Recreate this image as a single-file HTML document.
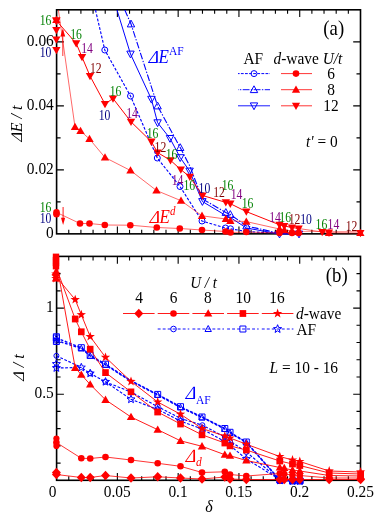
<!DOCTYPE html>
<html><head><meta charset="utf-8"><title>Figure</title>
<style>
html,body{margin:0;padding:0;background:#fff;}
svg{display:block;font-family:"Liberation Serif",serif;will-change:transform;}
</style></head><body>
<svg width="382" height="524" viewBox="0 0 382 524">
<rect width="382" height="524" fill="#fff"/>
<defs>
<clipPath id="ca"><rect x="56.6" y="9.8" width="309.9" height="232.04999999999998"/></clipPath>
<clipPath id="cb"><rect x="50.6" y="252.39999999999998" width="315.9" height="233.90000000000003"/></clipPath>
</defs>
<rect x="56.6" y="9.8" width="303.9" height="224.04999999999998" fill="none" stroke="#000" stroke-width="1.6"/>
<path d="M68.76 9.8v4.0M68.76 233.85v-4.0" stroke="#000" stroke-width="1.1"/>
<path d="M80.91 9.8v4.0M80.91 233.85v-4.0" stroke="#000" stroke-width="1.1"/>
<path d="M93.07 9.8v4.0M93.07 233.85v-4.0" stroke="#000" stroke-width="1.1"/>
<path d="M105.22 9.8v4.0M105.22 233.85v-4.0" stroke="#000" stroke-width="1.1"/>
<path d="M117.38 9.8v7.3M117.38 233.85v-7.3" stroke="#000" stroke-width="1.1"/>
<path d="M129.54 9.8v4.0M129.54 233.85v-4.0" stroke="#000" stroke-width="1.1"/>
<path d="M141.69 9.8v4.0M141.69 233.85v-4.0" stroke="#000" stroke-width="1.1"/>
<path d="M153.85 9.8v4.0M153.85 233.85v-4.0" stroke="#000" stroke-width="1.1"/>
<path d="M166.00 9.8v4.0M166.00 233.85v-4.0" stroke="#000" stroke-width="1.1"/>
<path d="M178.16 9.8v7.3M178.16 233.85v-7.3" stroke="#000" stroke-width="1.1"/>
<path d="M190.32 9.8v4.0M190.32 233.85v-4.0" stroke="#000" stroke-width="1.1"/>
<path d="M202.47 9.8v4.0M202.47 233.85v-4.0" stroke="#000" stroke-width="1.1"/>
<path d="M214.63 9.8v4.0M214.63 233.85v-4.0" stroke="#000" stroke-width="1.1"/>
<path d="M226.78 9.8v4.0M226.78 233.85v-4.0" stroke="#000" stroke-width="1.1"/>
<path d="M238.94 9.8v7.3M238.94 233.85v-7.3" stroke="#000" stroke-width="1.1"/>
<path d="M251.10 9.8v4.0M251.10 233.85v-4.0" stroke="#000" stroke-width="1.1"/>
<path d="M263.25 9.8v4.0M263.25 233.85v-4.0" stroke="#000" stroke-width="1.1"/>
<path d="M275.41 9.8v4.0M275.41 233.85v-4.0" stroke="#000" stroke-width="1.1"/>
<path d="M287.56 9.8v4.0M287.56 233.85v-4.0" stroke="#000" stroke-width="1.1"/>
<path d="M299.72 9.8v7.3M299.72 233.85v-7.3" stroke="#000" stroke-width="1.1"/>
<path d="M311.88 9.8v4.0M311.88 233.85v-4.0" stroke="#000" stroke-width="1.1"/>
<path d="M324.03 9.8v4.0M324.03 233.85v-4.0" stroke="#000" stroke-width="1.1"/>
<path d="M336.19 9.8v4.0M336.19 233.85v-4.0" stroke="#000" stroke-width="1.1"/>
<path d="M348.34 9.8v4.0M348.34 233.85v-4.0" stroke="#000" stroke-width="1.1"/>
<path d="M56.6 201.85h4.0M360.5 201.85h-4.0" stroke="#000" stroke-width="1.1"/>
<path d="M56.6 169.85h7.3M360.5 169.85h-7.3" stroke="#000" stroke-width="1.1"/>
<path d="M56.6 137.85h4.0M360.5 137.85h-4.0" stroke="#000" stroke-width="1.1"/>
<path d="M56.6 105.85h7.3M360.5 105.85h-7.3" stroke="#000" stroke-width="1.1"/>
<path d="M56.6 73.85h4.0M360.5 73.85h-4.0" stroke="#000" stroke-width="1.1"/>
<path d="M56.6 41.85h7.3M360.5 41.85h-7.3" stroke="#000" stroke-width="1.1"/>
<polyline points="95.5,10.0 104.8,50.0 130.5,96.0 157.3,158.0 180.0,186.5 202.0,221.0 225.5,228.0 230.5,228.8 246.5,231.5 279.5,233.3 299.0,233.3" fill="none" stroke="#0000ff" stroke-width="1.15" stroke-opacity="1.0" stroke-dasharray="2.8 1.6" clip-path="url(#ca)"/>
<circle cx="104.8" cy="50.0" r="3.0" fill="none" stroke="#0000ff" stroke-width="1"/>
<circle cx="130.5" cy="96.0" r="3.0" fill="none" stroke="#0000ff" stroke-width="1"/>
<circle cx="157.3" cy="158.0" r="3.0" fill="none" stroke="#0000ff" stroke-width="1"/>
<circle cx="180.0" cy="186.5" r="3.0" fill="none" stroke="#0000ff" stroke-width="1"/>
<circle cx="202.0" cy="221.0" r="3.0" fill="none" stroke="#0000ff" stroke-width="1"/>
<circle cx="225.5" cy="228.0" r="3.0" fill="none" stroke="#0000ff" stroke-width="1"/>
<circle cx="230.5" cy="228.8" r="3.0" fill="none" stroke="#0000ff" stroke-width="1"/>
<circle cx="246.5" cy="231.5" r="3.0" fill="none" stroke="#0000ff" stroke-width="1"/>
<polyline points="124.8,10.0 131.0,24.0 157.6,106.0 180.2,147.6 189.8,166.0 202.4,199.0 225.8,212.5 230.3,214.5 246.5,226.0 279.5,233.3 299.0,233.3" fill="none" stroke="#0000ff" stroke-width="1.1" stroke-opacity="1.0" stroke-dasharray="6.8 1.6 1.4 1.6" clip-path="url(#ca)"/>
<polygon points="131.0,20.1 134.7,26.9 127.3,26.9" fill="none" stroke="#0000ff" stroke-width="1" stroke-linejoin="miter"/>
<polygon points="157.6,102.1 161.3,108.9 153.9,108.9" fill="none" stroke="#0000ff" stroke-width="1" stroke-linejoin="miter"/>
<polygon points="180.2,143.7 183.9,150.5 176.5,150.5" fill="none" stroke="#0000ff" stroke-width="1" stroke-linejoin="miter"/>
<polygon points="225.8,208.6 229.5,215.4 222.1,215.4" fill="none" stroke="#0000ff" stroke-width="1" stroke-linejoin="miter"/>
<polygon points="230.3,210.6 234.0,217.4 226.6,217.4" fill="none" stroke="#0000ff" stroke-width="1" stroke-linejoin="miter"/>
<polygon points="246.5,222.1 250.2,228.9 242.8,228.9" fill="none" stroke="#0000ff" stroke-width="1" stroke-linejoin="miter"/>
<polyline points="117.0,10.0 130.5,54.0 151.4,99.2 157.6,122.7 170.0,138.4 180.2,157.6 189.6,171.0 202.4,201.5 225.8,215.5 230.3,217.5 246.5,228.0 279.5,234.0 299.0,234.0" fill="none" stroke="#0000ff" stroke-width="1.0" stroke-opacity="1.0" clip-path="url(#ca)"/>
<polygon points="130.5,57.9 134.2,51.1 126.8,51.1" fill="none" stroke="#0000ff" stroke-width="1" stroke-linejoin="miter"/>
<polygon points="151.4,103.1 155.1,96.3 147.7,96.3" fill="none" stroke="#0000ff" stroke-width="1" stroke-linejoin="miter"/>
<polygon points="157.6,126.6 161.3,119.8 153.9,119.8" fill="none" stroke="#0000ff" stroke-width="1" stroke-linejoin="miter"/>
<polygon points="170.0,142.3 173.7,135.5 166.3,135.5" fill="none" stroke="#0000ff" stroke-width="1" stroke-linejoin="miter"/>
<polygon points="180.2,161.5 183.9,154.7 176.5,154.7" fill="none" stroke="#0000ff" stroke-width="1" stroke-linejoin="miter"/>
<polygon points="189.6,174.9 193.3,168.1 185.9,168.1" fill="none" stroke="#0000ff" stroke-width="1" stroke-linejoin="miter"/>
<polygon points="202.4,205.4 206.1,198.6 198.7,198.6" fill="none" stroke="#0000ff" stroke-width="1" stroke-linejoin="miter"/>
<polygon points="279.5,237.9 283.2,231.1 275.8,231.1" fill="none" stroke="#0000ff" stroke-width="1" stroke-linejoin="miter"/>
<polygon points="299.0,237.9 302.7,231.1 295.3,231.1" fill="none" stroke="#0000ff" stroke-width="1" stroke-linejoin="miter"/>
<polyline points="56.5,212.4 80.0,223.5 89.5,223.5 104.8,225.0 130.3,225.2 156.8,227.5 179.8,228.5 202.0,230.0 225.5,231.5 230.5,232.5 246.3,232.0 279.5,233.0 292.0,233.0 298.6,233.0" fill="none" stroke="#ff0000" stroke-width="0.7" stroke-opacity="0.85"/>
<circle cx="56.5" cy="212.4" r="3.3" fill="#ff0000"/>
<circle cx="80.0" cy="223.5" r="3.3" fill="#ff0000"/>
<circle cx="89.5" cy="223.5" r="3.3" fill="#ff0000"/>
<circle cx="104.8" cy="225.0" r="3.3" fill="#ff0000"/>
<circle cx="130.3" cy="225.2" r="3.3" fill="#ff0000"/>
<circle cx="156.8" cy="227.5" r="3.3" fill="#ff0000"/>
<circle cx="179.8" cy="228.5" r="3.3" fill="#ff0000"/>
<circle cx="202.0" cy="230.0" r="3.3" fill="#ff0000"/>
<circle cx="225.5" cy="231.5" r="3.3" fill="#ff0000"/>
<circle cx="230.5" cy="232.5" r="3.3" fill="#ff0000"/>
<circle cx="246.3" cy="232.0" r="3.3" fill="#ff0000"/>
<circle cx="279.5" cy="233.0" r="3.3" fill="#ff0000"/>
<circle cx="292.0" cy="233.0" r="3.3" fill="#ff0000"/>
<circle cx="298.6" cy="233.0" r="3.3" fill="#ff0000"/>
<polyline points="58.4,10.0 75.0,127.0 80.5,131.0 89.5,139.0 105.0,157.5 130.5,170.5 156.5,190.5 181.0,200.7 202.0,215.8 225.8,219.0 230.3,220.8 246.3,221.6 279.5,229.0 284.3,230.0 292.0,231.0 298.6,231.5" fill="none" stroke="#ff0000" stroke-width="0.7" stroke-opacity="0.85" clip-path="url(#ca)"/>
<polygon points="75.0,122.8 79.2,130.1 70.8,130.1" fill="#ff0000"/>
<polygon points="80.5,126.8 84.7,134.1 76.3,134.1" fill="#ff0000"/>
<polygon points="89.5,134.8 93.7,142.1 85.3,142.1" fill="#ff0000"/>
<polygon points="105.0,153.3 109.2,160.6 100.8,160.6" fill="#ff0000"/>
<polygon points="130.5,166.3 134.7,173.6 126.3,173.6" fill="#ff0000"/>
<polygon points="156.5,186.3 160.7,193.6 152.3,193.6" fill="#ff0000"/>
<polygon points="181.0,196.5 185.2,203.8 176.8,203.8" fill="#ff0000"/>
<polygon points="202.0,211.6 206.2,218.9 197.8,218.9" fill="#ff0000"/>
<polygon points="225.8,214.8 230.0,222.1 221.7,222.1" fill="#ff0000"/>
<polygon points="230.3,216.6 234.5,223.9 226.2,223.9" fill="#ff0000"/>
<polygon points="246.3,217.4 250.5,224.7 242.2,224.7" fill="#ff0000"/>
<polygon points="279.5,224.8 283.6,232.1 275.4,232.1" fill="#ff0000"/>
<polygon points="284.3,225.8 288.4,233.1 280.2,233.1" fill="#ff0000"/>
<polygon points="292.0,226.8 296.1,234.1 287.9,234.1" fill="#ff0000"/>
<polygon points="298.6,227.3 302.8,234.6 294.5,234.6" fill="#ff0000"/>
<polyline points="298.6,231.5 329.0,231.5 360.4,231.5" fill="none" stroke="#ff0000" stroke-width="0.5" stroke-opacity="0.8" clip-path="url(#ca)"/>
<polygon points="329.0,228.7 333.1,236.0 324.9,236.0" fill="#ff0000"/>
<polygon points="360.4,228.7 364.5,236.0 356.2,236.0" fill="#ff0000"/>
<polyline points="56.4,20.7 76.2,43.4 82.0,57.0 90.0,76.0 105.0,104.0 113.0,98.5 131.0,121.8 151.4,141.7 157.6,152.6 170.5,160.3 180.8,169.6 189.8,176.8 202.5,195.5 225.8,202.4 230.3,203.7 246.3,211.6 279.5,224.8 284.3,226.0 292.0,227.5 298.6,228.5" fill="none" stroke="#ff0000" stroke-width="1.0" stroke-opacity="1.0" clip-path="url(#ca)"/>
<polygon points="56.4,24.9 60.5,17.6 52.2,17.6" fill="#ff0000"/>
<polygon points="76.2,47.6 80.4,40.3 72.0,40.3" fill="#ff0000"/>
<polygon points="82.0,61.2 86.2,53.9 77.8,53.9" fill="#ff0000"/>
<polygon points="90.0,80.2 94.2,72.9 85.8,72.9" fill="#ff0000"/>
<polygon points="105.0,108.2 109.2,100.9 100.8,100.9" fill="#ff0000"/>
<polygon points="113.0,102.7 117.2,95.4 108.8,95.4" fill="#ff0000"/>
<polygon points="131.0,126.0 135.2,118.7 126.8,118.7" fill="#ff0000"/>
<polygon points="151.4,145.9 155.6,138.6 147.2,138.6" fill="#ff0000"/>
<polygon points="157.6,156.8 161.8,149.5 153.4,149.5" fill="#ff0000"/>
<polygon points="170.5,164.5 174.7,157.2 166.3,157.2" fill="#ff0000"/>
<polygon points="180.8,173.8 185.0,166.5 176.7,166.5" fill="#ff0000"/>
<polygon points="189.8,181.0 194.0,173.7 185.7,173.7" fill="#ff0000"/>
<polygon points="202.5,199.7 206.7,192.4 198.3,192.4" fill="#ff0000"/>
<polygon points="225.8,206.6 230.0,199.3 221.7,199.3" fill="#ff0000"/>
<polygon points="230.3,207.9 234.5,200.6 226.2,200.6" fill="#ff0000"/>
<polygon points="246.3,215.8 250.5,208.5 242.2,208.5" fill="#ff0000"/>
<polygon points="279.5,229.0 283.6,221.7 275.4,221.7" fill="#ff0000"/>
<polygon points="284.3,230.2 288.4,222.9 280.2,222.9" fill="#ff0000"/>
<polygon points="292.0,231.7 296.1,224.4 287.9,224.4" fill="#ff0000"/>
<polygon points="298.6,232.7 302.8,225.4 294.5,225.4" fill="#ff0000"/>
<polyline points="298.6,228.5 322.2,232.0 329.0,232.7 360.4,233.0" fill="none" stroke="#ff0000" stroke-width="0.6" stroke-opacity="1.0" clip-path="url(#ca)"/>
<polygon points="322.2,236.2 326.3,228.9 318.1,228.9" fill="#ff0000"/>
<polygon points="329.0,236.9 333.1,229.6 324.9,229.6" fill="#ff0000"/>
<polygon points="360.4,237.2 364.5,229.9 356.2,229.9" fill="#ff0000"/>
<polygon points="56.4,24.9 60.5,17.6 52.2,17.6" fill="#ff0000"/>
<polygon points="56.4,34.2 60.5,26.9 52.2,26.9" fill="#ff0000"/>
<polygon points="56.4,43.7 60.5,36.4 52.2,36.4" fill="#ff0000"/>
<polygon points="56.4,54.2 60.5,46.9 52.2,46.9" fill="#ff0000"/>
<polygon points="56.4,15.8 60.5,23.1 52.2,23.1" fill="#ff0000"/>
<path d="M62.8 56V30" stroke="#ff0000" stroke-width="0.8" fill="none"/>
<polygon points="62.8,28.5 65.2,36.5 60.4,36.5" fill="#ff0000"/>
<path d="M63.1 207V222" stroke="#ff0000" stroke-width="0.9" fill="none"/>
<polygon points="63.1,225.0 65.2,217.8 61.0,217.8" fill="#ff0000"/>
<circle cx="56.5" cy="214.2" r="3.3" fill="#ff0000"/>
<text transform="translate(53.8,45.9) scale(1.0,1.06)" font-size="15.4" fill="#000" text-anchor="end">0.06</text>
<text transform="translate(53.8,109.9) scale(1.0,1.06)" font-size="15.4" fill="#000" text-anchor="end">0.04</text>
<text transform="translate(53.8,173.9) scale(1.0,1.06)" font-size="15.4" fill="#000" text-anchor="end">0.02</text>
<text transform="translate(53.8,237.9) scale(1.0,1.06)" font-size="15.4" fill="#000" text-anchor="end">0</text>
<text transform="translate(45.5,25.3) scale(0.8,1.0)" font-size="14.6" fill="#008000" text-anchor="middle">16</text>
<text transform="translate(45.5,57.3) scale(0.8,1.0)" font-size="14.6" fill="#000080" text-anchor="middle">10</text>
<text transform="translate(76.0,39.3) scale(0.8,1.0)" font-size="14.6" fill="#008000" text-anchor="middle">16</text>
<text transform="translate(87.0,53.3) scale(0.8,1.0)" font-size="14.6" fill="#800080" text-anchor="middle">14</text>
<text transform="translate(95.8,72.8) scale(0.8,1.0)" font-size="14.6" fill="#800000" text-anchor="middle">12</text>
<text transform="translate(104.5,119.8) scale(0.8,1.0)" font-size="14.6" fill="#000080" text-anchor="middle">10</text>
<text transform="translate(115.5,95.8) scale(0.8,1.0)" font-size="14.6" fill="#008000" text-anchor="middle">16</text>
<text transform="translate(132.0,117.8) scale(0.8,1.0)" font-size="14.6" fill="#800080" text-anchor="middle">14</text>
<text transform="translate(152.5,138.3) scale(0.8,1.0)" font-size="14.6" fill="#008000" text-anchor="middle">16</text>
<text transform="translate(160.4,152.1) scale(0.8,1.0)" font-size="14.6" fill="#800000" text-anchor="middle">12</text>
<text transform="translate(171.5,159.1) scale(0.8,1.0)" font-size="14.6" fill="#008000" text-anchor="middle">16</text>
<text transform="translate(177.6,185.1) scale(0.8,1.0)" font-size="14.6" fill="#800080" text-anchor="middle">14</text>
<text transform="translate(189.3,190.1) scale(0.8,1.0)" font-size="14.6" fill="#008000" text-anchor="middle">16</text>
<text transform="translate(204.4,192.7) scale(0.8,1.0)" font-size="14.6" fill="#000080" text-anchor="middle">10</text>
<text transform="translate(219.0,196.8) scale(0.8,1.0)" font-size="14.6" fill="#800000" text-anchor="middle">12</text>
<text transform="translate(227.5,189.8) scale(0.8,1.0)" font-size="14.6" fill="#008000" text-anchor="middle">16</text>
<text transform="translate(236.5,199.3) scale(0.8,1.0)" font-size="14.6" fill="#800080" text-anchor="middle">14</text>
<text transform="translate(247.5,208.3) scale(0.8,1.0)" font-size="14.6" fill="#008000" text-anchor="middle">16</text>
<text transform="translate(275.0,221.9) scale(0.8,1.0)" font-size="14.6" fill="#800080" text-anchor="middle">14</text>
<text transform="translate(285.2,221.9) scale(0.8,1.0)" font-size="14.6" fill="#008000" text-anchor="middle">16</text>
<text transform="translate(294.6,223.7) scale(0.8,1.0)" font-size="14.6" fill="#800000" text-anchor="middle">12</text>
<text transform="translate(306.0,223.7) scale(0.8,1.0)" font-size="14.6" fill="#000080" text-anchor="middle">10</text>
<text transform="translate(321.4,228.9) scale(0.8,1.0)" font-size="14.6" fill="#008000" text-anchor="middle">16</text>
<text transform="translate(333.4,228.9) scale(0.8,1.0)" font-size="14.6" fill="#800080" text-anchor="middle">14</text>
<text transform="translate(351.5,231.3) scale(0.8,1.0)" font-size="14.6" fill="#800000" text-anchor="middle">12</text>
<text transform="translate(45.5,211.7) scale(0.8,1.0)" font-size="14.6" fill="#008000" text-anchor="middle">16</text>
<text transform="translate(45.5,222.8) scale(0.8,1.0)" font-size="14.6" fill="#000080" text-anchor="middle">10</text>
<text transform="translate(323.3,34.8) scale(1.0,1.06)" font-size="18.8" fill="#000" text-anchor="start">(a)</text>
<text transform="translate(243.5,63.7) scale(1.0,1.06)" font-size="15.4" fill="#000" text-anchor="start">AF</text>
<text transform="translate(273.5,63.7) scale(1.0,1.06)" font-size="15.4" fill="#000"><tspan font-style="italic">d</tspan>-wave <tspan font-style="italic">U/t</tspan></text>
<text transform="translate(331.0,78.7) scale(1.0,1.06)" font-size="15.4" fill="#000" text-anchor="middle">6</text>
<text transform="translate(331.0,94.8) scale(1.0,1.06)" font-size="15.4" fill="#000" text-anchor="middle">8</text>
<text transform="translate(331.0,110.9) scale(1.0,1.06)" font-size="15.4" fill="#000" text-anchor="middle">12</text>
<path d="M238 73.6H270" stroke="#0000ff" stroke-width="1" stroke-dasharray="2.8 1.3" stroke-dashoffset="1.2" fill="none"/>
<circle cx="254.0" cy="73.6" r="3.0" fill="none" stroke="#0000ff" stroke-width="1"/>
<path d="M238 89.7H270" stroke="#0000ff" stroke-width="0.95" stroke-dasharray="6.8 1.4 1.4 1.4" stroke-dashoffset="6.3" fill="none"/>
<polygon points="254.0,85.8 257.7,92.6 250.3,92.6" fill="none" stroke="#0000ff" stroke-width="1" stroke-linejoin="miter"/>
<path d="M238 105.8H270" stroke="#0000ff" stroke-width="0.9" fill="none"/>
<polygon points="254.0,109.7 257.7,102.9 250.3,102.9" fill="none" stroke="#0000ff" stroke-width="1" stroke-linejoin="miter"/>
<path d="M281 73.6H312" stroke="#ff0000" stroke-width="0.8" fill="none"/>
<circle cx="296.0" cy="73.6" r="3.3" fill="#ff0000"/>
<path d="M281 89.7H312" stroke="#ff0000" stroke-width="0.8" fill="none"/>
<polygon points="296.0,85.5 300.1,92.8 291.9,92.8" fill="#ff0000"/>
<path d="M281 105.8H312" stroke="#ff0000" stroke-width="0.8" fill="none"/>
<polygon points="296.0,110.0 300.1,102.7 291.9,102.7" fill="#ff0000"/>
<text transform="translate(306.0,146.8) scale(1.0,1.06)" font-size="15.4" fill="#000"><tspan font-style="italic">t'</tspan> = 0</text>
<text transform="translate(148.5,62.5) scale(1,1.06) skewX(-9)" font-size="17" fill="#0000ff" font-style="italic">Δ</text>
<text transform="translate(158.5,62.5) scale(1,1.06)" font-size="17" fill="#0000ff" font-style="italic">E<tspan font-size="11.5" font-style="normal" dy="-7.5">AF</tspan></text>
<text transform="translate(149.5,223.0) scale(1,1.06) skewX(-9)" font-size="17" fill="#ff0000" font-style="italic">Δ</text>
<text transform="translate(159.5,223.0) scale(1,1.06)" font-size="17" fill="#ff0000" font-style="italic">E<tspan font-size="11" dy="-7.6">d</tspan></text>
<g transform="translate(22.2,123.5) rotate(-90)" font-size="16" font-style="italic"><text transform="translate(-18.2,0) skewX(-9)">Δ</text><text x="-8.8" y="0">E / t</text></g>
<rect x="56.6" y="256.4" width="303.9" height="223.90000000000003" fill="none" stroke="#000" stroke-width="1.6"/>
<path d="M68.76 256.4v4.0M68.76 480.3v-4.0" stroke="#000" stroke-width="1.1"/>
<path d="M80.91 256.4v4.0M80.91 480.3v-4.0" stroke="#000" stroke-width="1.1"/>
<path d="M93.07 256.4v4.0M93.07 480.3v-4.0" stroke="#000" stroke-width="1.1"/>
<path d="M105.22 256.4v4.0M105.22 480.3v-4.0" stroke="#000" stroke-width="1.1"/>
<path d="M117.38 256.4v7.3M117.38 480.3v-7.3" stroke="#000" stroke-width="1.1"/>
<path d="M129.54 256.4v4.0M129.54 480.3v-4.0" stroke="#000" stroke-width="1.1"/>
<path d="M141.69 256.4v4.0M141.69 480.3v-4.0" stroke="#000" stroke-width="1.1"/>
<path d="M153.85 256.4v4.0M153.85 480.3v-4.0" stroke="#000" stroke-width="1.1"/>
<path d="M166.00 256.4v4.0M166.00 480.3v-4.0" stroke="#000" stroke-width="1.1"/>
<path d="M178.16 256.4v7.3M178.16 480.3v-7.3" stroke="#000" stroke-width="1.1"/>
<path d="M190.32 256.4v4.0M190.32 480.3v-4.0" stroke="#000" stroke-width="1.1"/>
<path d="M202.47 256.4v4.0M202.47 480.3v-4.0" stroke="#000" stroke-width="1.1"/>
<path d="M214.63 256.4v4.0M214.63 480.3v-4.0" stroke="#000" stroke-width="1.1"/>
<path d="M226.78 256.4v4.0M226.78 480.3v-4.0" stroke="#000" stroke-width="1.1"/>
<path d="M238.94 256.4v7.3M238.94 480.3v-7.3" stroke="#000" stroke-width="1.1"/>
<path d="M251.10 256.4v4.0M251.10 480.3v-4.0" stroke="#000" stroke-width="1.1"/>
<path d="M263.25 256.4v4.0M263.25 480.3v-4.0" stroke="#000" stroke-width="1.1"/>
<path d="M275.41 256.4v4.0M275.41 480.3v-4.0" stroke="#000" stroke-width="1.1"/>
<path d="M287.56 256.4v4.0M287.56 480.3v-4.0" stroke="#000" stroke-width="1.1"/>
<path d="M299.72 256.4v7.3M299.72 480.3v-7.3" stroke="#000" stroke-width="1.1"/>
<path d="M311.88 256.4v4.0M311.88 480.3v-4.0" stroke="#000" stroke-width="1.1"/>
<path d="M324.03 256.4v4.0M324.03 480.3v-4.0" stroke="#000" stroke-width="1.1"/>
<path d="M336.19 256.4v4.0M336.19 480.3v-4.0" stroke="#000" stroke-width="1.1"/>
<path d="M348.34 256.4v4.0M348.34 480.3v-4.0" stroke="#000" stroke-width="1.1"/>
<path d="M56.6 463.08h4.0M360.5 463.08h-4.0" stroke="#000" stroke-width="1.1"/>
<path d="M56.6 445.86h4.0M360.5 445.86h-4.0" stroke="#000" stroke-width="1.1"/>
<path d="M56.6 428.64h4.0M360.5 428.64h-4.0" stroke="#000" stroke-width="1.1"/>
<path d="M56.6 411.42h4.0M360.5 411.42h-4.0" stroke="#000" stroke-width="1.1"/>
<path d="M56.6 394.20h7.3M360.5 394.20h-7.3" stroke="#000" stroke-width="1.1"/>
<path d="M56.6 376.98h4.0M360.5 376.98h-4.0" stroke="#000" stroke-width="1.1"/>
<path d="M56.6 359.76h4.0M360.5 359.76h-4.0" stroke="#000" stroke-width="1.1"/>
<path d="M56.6 342.54h4.0M360.5 342.54h-4.0" stroke="#000" stroke-width="1.1"/>
<path d="M56.6 325.32h4.0M360.5 325.32h-4.0" stroke="#000" stroke-width="1.1"/>
<path d="M56.6 308.10h7.3M360.5 308.10h-7.3" stroke="#000" stroke-width="1.1"/>
<path d="M56.6 290.88h4.0M360.5 290.88h-4.0" stroke="#000" stroke-width="1.1"/>
<path d="M56.6 273.66h4.0M360.5 273.66h-4.0" stroke="#000" stroke-width="1.1"/>
<polyline points="56.4,338.0 81.3,347.7 90.2,355.2 105.5,364.2 131.0,380.8 157.7,394.4 180.5,406.7 202.0,417.0 224.8,428.5 230.0,432.3 246.3,442.0 279.8,480.0 292.5,481.0 299.8,481.0" fill="none" stroke="#0000ff" stroke-width="1.4" stroke-opacity="1.0" stroke-dasharray="2.8 1.7" clip-path="url(#cb)"/>
<polygon points="53.4,335.0 59.4,335.0 59.4,341.0 53.4,341.0" fill="none" stroke="#0000ff" stroke-width="1" stroke-linejoin="miter"/>
<polygon points="78.3,344.7 84.3,344.7 84.3,350.7 78.3,350.7" fill="none" stroke="#0000ff" stroke-width="1" stroke-linejoin="miter"/>
<polygon points="87.2,352.2 93.2,352.2 93.2,358.2 87.2,358.2" fill="none" stroke="#0000ff" stroke-width="1" stroke-linejoin="miter"/>
<polygon points="102.5,361.2 108.5,361.2 108.5,367.2 102.5,367.2" fill="none" stroke="#0000ff" stroke-width="1" stroke-linejoin="miter"/>
<polygon points="154.7,391.4 160.7,391.4 160.7,397.4 154.7,397.4" fill="none" stroke="#0000ff" stroke-width="1" stroke-linejoin="miter"/>
<polygon points="177.5,403.7 183.5,403.7 183.5,409.7 177.5,409.7" fill="none" stroke="#0000ff" stroke-width="1" stroke-linejoin="miter"/>
<polygon points="199.0,414.0 205.0,414.0 205.0,420.0 199.0,420.0" fill="none" stroke="#0000ff" stroke-width="1" stroke-linejoin="miter"/>
<polygon points="221.8,425.5 227.8,425.5 227.8,431.5 221.8,431.5" fill="none" stroke="#0000ff" stroke-width="1" stroke-linejoin="miter"/>
<polygon points="227.0,429.3 233.0,429.3 233.0,435.3 227.0,435.3" fill="none" stroke="#0000ff" stroke-width="1" stroke-linejoin="miter"/>
<polygon points="243.3,439.0 249.3,439.0 249.3,445.0 243.3,445.0" fill="none" stroke="#0000ff" stroke-width="1" stroke-linejoin="miter"/>
<polygon points="276.8,477.0 282.8,477.0 282.8,483.0 276.8,483.0" fill="none" stroke="#0000ff" stroke-width="1" stroke-linejoin="miter"/>
<polygon points="289.5,478.0 295.5,478.0 295.5,484.0 289.5,484.0" fill="none" stroke="#0000ff" stroke-width="1" stroke-linejoin="miter"/>
<polygon points="296.8,478.0 302.8,478.0 302.8,484.0 296.8,484.0" fill="none" stroke="#0000ff" stroke-width="1" stroke-linejoin="miter"/>
<polyline points="56.4,340.5 81.3,348.5 90.2,356.0 105.5,365.0 131.0,381.2 157.7,395.0 180.5,407.5 202.0,417.5 224.8,429.0 230.0,433.0 246.3,442.5 279.8,480.0 292.5,481.0 299.8,481.0" fill="none" stroke="#0000ff" stroke-width="1.4" stroke-opacity="1.0" stroke-dasharray="2.8 1.7" clip-path="url(#cb)"/>
<polygon points="56.4,337.3 59.4,342.9 53.4,342.9" fill="none" stroke="#0000ff" stroke-width="1" stroke-linejoin="miter"/>
<polygon points="81.3,345.3 84.3,350.9 78.3,350.9" fill="none" stroke="#0000ff" stroke-width="1" stroke-linejoin="miter"/>
<polygon points="90.2,352.8 93.2,358.4 87.2,358.4" fill="none" stroke="#0000ff" stroke-width="1" stroke-linejoin="miter"/>
<polygon points="105.5,361.8 108.5,367.4 102.5,367.4" fill="none" stroke="#0000ff" stroke-width="1" stroke-linejoin="miter"/>
<polygon points="157.7,391.8 160.7,397.4 154.7,397.4" fill="none" stroke="#0000ff" stroke-width="1" stroke-linejoin="miter"/>
<polygon points="180.5,404.3 183.5,409.9 177.5,409.9" fill="none" stroke="#0000ff" stroke-width="1" stroke-linejoin="miter"/>
<polygon points="202.0,414.3 205.0,419.9 199.0,419.9" fill="none" stroke="#0000ff" stroke-width="1" stroke-linejoin="miter"/>
<polygon points="224.8,425.8 227.8,431.4 221.8,431.4" fill="none" stroke="#0000ff" stroke-width="1" stroke-linejoin="miter"/>
<polygon points="230.0,429.8 233.0,435.4 227.0,435.4" fill="none" stroke="#0000ff" stroke-width="1" stroke-linejoin="miter"/>
<polygon points="246.3,439.3 249.3,444.9 243.3,444.9" fill="none" stroke="#0000ff" stroke-width="1" stroke-linejoin="miter"/>
<polygon points="279.8,476.8 282.8,482.4 276.8,482.4" fill="none" stroke="#0000ff" stroke-width="1" stroke-linejoin="miter"/>
<polygon points="292.5,477.8 295.5,483.4 289.5,483.4" fill="none" stroke="#0000ff" stroke-width="1" stroke-linejoin="miter"/>
<polygon points="299.8,477.8 302.8,483.4 296.8,483.4" fill="none" stroke="#0000ff" stroke-width="1" stroke-linejoin="miter"/>
<polyline points="56.4,355.8 81.5,367.5" fill="none" stroke="#0000ff" stroke-width="1.15" stroke-opacity="1.0" stroke-dasharray="2.8 1.6" clip-path="url(#cb)"/>
<circle cx="56.4" cy="355.8" r="2.5" fill="none" stroke="#0000ff" stroke-width="1"/>
<polyline points="105.3,381.8 131.0,392.0 157.7,406.7 180.7,418.5 202.4,425.2 224.8,437.0 230.0,441.0 246.3,452.0 279.8,480.0 292.5,481.0 299.8,481.0" fill="none" stroke="#0000ff" stroke-width="1.15" stroke-opacity="1.0" stroke-dasharray="2.8 1.6" clip-path="url(#cb)"/>
<circle cx="105.3" cy="381.8" r="2.5" fill="none" stroke="#0000ff" stroke-width="1"/>
<circle cx="131.0" cy="392.0" r="2.5" fill="none" stroke="#0000ff" stroke-width="1"/>
<circle cx="157.7" cy="406.7" r="2.5" fill="none" stroke="#0000ff" stroke-width="1"/>
<circle cx="180.7" cy="418.5" r="2.5" fill="none" stroke="#0000ff" stroke-width="1"/>
<circle cx="202.4" cy="425.2" r="2.5" fill="none" stroke="#0000ff" stroke-width="1"/>
<circle cx="224.8" cy="437.0" r="2.5" fill="none" stroke="#0000ff" stroke-width="1"/>
<circle cx="230.0" cy="441.0" r="2.5" fill="none" stroke="#0000ff" stroke-width="1"/>
<circle cx="246.3" cy="452.0" r="2.5" fill="none" stroke="#0000ff" stroke-width="1"/>
<circle cx="279.8" cy="480.0" r="2.5" fill="none" stroke="#0000ff" stroke-width="1"/>
<circle cx="292.5" cy="481.0" r="2.5" fill="none" stroke="#0000ff" stroke-width="1"/>
<circle cx="299.8" cy="481.0" r="2.5" fill="none" stroke="#0000ff" stroke-width="1"/>
<circle cx="90.2" cy="373.4" r="2.5" fill="none" stroke="#0000ff" stroke-width="1"/>
<polyline points="56.4,368.0 81.3,367.5 90.2,373.4 105.5,381.8 131.0,399.3 157.7,409.5 180.5,421.0 202.0,429.0 224.8,441.5 230.0,445.5 246.3,459.0 279.8,479.5 292.5,481.0 299.8,481.0" fill="none" stroke="#0000ff" stroke-width="1.15" stroke-opacity="1.0" stroke-dasharray="2.8 1.6" clip-path="url(#cb)"/>
<polygon points="56.4,363.8 57.5,366.5 60.4,366.7 58.1,368.6 58.9,371.4 56.4,369.8 53.9,371.4 54.7,368.6 52.4,366.7 55.3,366.5" fill="none" stroke="#0000ff" stroke-width="1" stroke-linejoin="miter"/>
<polygon points="81.3,363.3 82.4,366.0 85.3,366.2 83.0,368.1 83.8,370.9 81.3,369.3 78.8,370.9 79.6,368.1 77.3,366.2 80.2,366.0" fill="none" stroke="#0000ff" stroke-width="1" stroke-linejoin="miter"/>
<polygon points="90.2,369.2 91.3,371.9 94.2,372.1 91.9,374.0 92.7,376.8 90.2,375.2 87.7,376.8 88.5,374.0 86.2,372.1 89.1,371.9" fill="none" stroke="#0000ff" stroke-width="1" stroke-linejoin="miter"/>
<polygon points="105.5,377.6 106.6,380.3 109.5,380.5 107.2,382.4 108.0,385.2 105.5,383.6 103.0,385.2 103.8,382.4 101.5,380.5 104.4,380.3" fill="none" stroke="#0000ff" stroke-width="1" stroke-linejoin="miter"/>
<polygon points="131.0,395.1 132.1,397.8 135.0,398.0 132.7,399.9 133.5,402.7 131.0,401.1 128.5,402.7 129.3,399.9 127.0,398.0 129.9,397.8" fill="none" stroke="#0000ff" stroke-width="1" stroke-linejoin="miter"/>
<polygon points="157.7,405.3 158.8,408.0 161.7,408.2 159.4,410.1 160.2,412.9 157.7,411.3 155.2,412.9 156.0,410.1 153.7,408.2 156.6,408.0" fill="none" stroke="#0000ff" stroke-width="1" stroke-linejoin="miter"/>
<polygon points="180.5,416.8 181.6,419.5 184.5,419.7 182.2,421.6 183.0,424.4 180.5,422.8 178.0,424.4 178.8,421.6 176.5,419.7 179.4,419.5" fill="none" stroke="#0000ff" stroke-width="1" stroke-linejoin="miter"/>
<polygon points="202.0,424.8 203.1,427.5 206.0,427.7 203.7,429.6 204.5,432.4 202.0,430.8 199.5,432.4 200.3,429.6 198.0,427.7 200.9,427.5" fill="none" stroke="#0000ff" stroke-width="1" stroke-linejoin="miter"/>
<polygon points="224.8,437.3 225.9,440.0 228.8,440.2 226.5,442.1 227.3,444.9 224.8,443.3 222.3,444.9 223.1,442.1 220.8,440.2 223.7,440.0" fill="none" stroke="#0000ff" stroke-width="1" stroke-linejoin="miter"/>
<polygon points="230.0,441.3 231.1,444.0 234.0,444.2 231.7,446.1 232.5,448.9 230.0,447.3 227.5,448.9 228.3,446.1 226.0,444.2 228.9,444.0" fill="none" stroke="#0000ff" stroke-width="1" stroke-linejoin="miter"/>
<polygon points="246.3,454.8 247.4,457.5 250.3,457.7 248.0,459.6 248.8,462.4 246.3,460.8 243.8,462.4 244.6,459.6 242.3,457.7 245.2,457.5" fill="none" stroke="#0000ff" stroke-width="1" stroke-linejoin="miter"/>
<polygon points="279.8,475.3 280.9,478.0 283.8,478.2 281.5,480.1 282.3,482.9 279.8,481.3 277.3,482.9 278.1,480.1 275.8,478.2 278.7,478.0" fill="none" stroke="#0000ff" stroke-width="1" stroke-linejoin="miter"/>
<polygon points="292.5,476.8 293.6,479.5 296.5,479.7 294.2,481.6 295.0,484.4 292.5,482.8 290.0,484.4 290.8,481.6 288.5,479.7 291.4,479.5" fill="none" stroke="#0000ff" stroke-width="1" stroke-linejoin="miter"/>
<polygon points="299.8,476.8 300.9,479.5 303.8,479.7 301.5,481.6 302.3,484.4 299.8,482.8 297.3,484.4 298.1,481.6 295.8,479.7 298.7,479.5" fill="none" stroke="#0000ff" stroke-width="1" stroke-linejoin="miter"/>
<polygon points="56.4,359.8 57.5,362.5 60.4,362.7 58.1,364.6 58.9,367.4 56.4,365.8 53.9,367.4 54.7,364.6 52.4,362.7 55.3,362.5" fill="none" stroke="#0000ff" stroke-width="1" stroke-linejoin="miter"/>
<polygon points="53.4,333.8 59.4,333.8 59.4,339.8 53.4,339.8" fill="none" stroke="#0000ff" stroke-width="1" stroke-linejoin="miter"/>
<polygon points="53.4,338.5 59.4,338.5 59.4,344.5 53.4,344.5" fill="none" stroke="#0000ff" stroke-width="1" stroke-linejoin="miter"/>
<polygon points="56.4,334.8 59.4,340.4 53.4,340.4" fill="none" stroke="#0000ff" stroke-width="1" stroke-linejoin="miter"/>
<polygon points="279.8,476.6 280.8,479.2 283.6,479.4 281.4,481.1 282.2,483.8 279.8,482.3 277.4,483.8 278.2,481.1 276.0,479.4 278.8,479.2" fill="none" stroke="#0000ff" stroke-width="1" stroke-linejoin="miter"/>
<polygon points="277.6,477.9 283.1,477.9 283.1,483.4 277.6,483.4" fill="none" stroke="#0000ff" stroke-width="1" stroke-linejoin="miter"/>
<polygon points="292.5,476.6 293.5,479.2 296.3,479.4 294.1,481.1 294.9,483.8 292.5,482.3 290.1,483.8 290.9,481.1 288.7,479.4 291.5,479.2" fill="none" stroke="#0000ff" stroke-width="1" stroke-linejoin="miter"/>
<polygon points="290.2,477.9 295.8,477.9 295.8,483.4 290.2,483.4" fill="none" stroke="#0000ff" stroke-width="1" stroke-linejoin="miter"/>
<polygon points="299.8,476.6 300.8,479.2 303.6,479.4 301.4,481.1 302.2,483.8 299.8,482.3 297.4,483.8 298.2,481.1 296.0,479.4 298.8,479.2" fill="none" stroke="#0000ff" stroke-width="1" stroke-linejoin="miter"/>
<polygon points="297.6,477.9 303.1,477.9 303.1,483.4 297.6,483.4" fill="none" stroke="#0000ff" stroke-width="1" stroke-linejoin="miter"/>
<polyline points="56.4,474.5 81.3,477.5 90.2,477.5 105.5,475.5 131.0,478.0 157.7,476.8 180.5,478.0 202.0,479.0 224.8,477.0 230.0,479.0 246.3,479.5 279.8,479.5 292.5,479.5 299.8,479.5 329.2,479.5 360.6,479.5" fill="none" stroke="#ff0000" stroke-width="0.8" stroke-opacity="1.0" clip-path="url(#cb)"/>
<polygon points="56.4,469.7 60.9,474.5 56.4,479.3 51.9,474.5" fill="#ff0000"/>
<polygon points="81.3,472.7 85.8,477.5 81.3,482.3 76.8,477.5" fill="#ff0000"/>
<polygon points="90.2,472.7 94.7,477.5 90.2,482.3 85.7,477.5" fill="#ff0000"/>
<polygon points="105.5,470.7 110.0,475.5 105.5,480.3 101.0,475.5" fill="#ff0000"/>
<polygon points="131.0,473.2 135.5,478.0 131.0,482.8 126.5,478.0" fill="#ff0000"/>
<polygon points="157.7,472.0 162.2,476.8 157.7,481.6 153.2,476.8" fill="#ff0000"/>
<polygon points="180.5,473.2 185.0,478.0 180.5,482.8 176.0,478.0" fill="#ff0000"/>
<polygon points="202.0,474.2 206.5,479.0 202.0,483.8 197.5,479.0" fill="#ff0000"/>
<polygon points="224.8,472.2 229.3,477.0 224.8,481.8 220.3,477.0" fill="#ff0000"/>
<polygon points="230.0,474.2 234.5,479.0 230.0,483.8 225.5,479.0" fill="#ff0000"/>
<polygon points="246.3,474.7 250.8,479.5 246.3,484.3 241.8,479.5" fill="#ff0000"/>
<polygon points="279.8,474.7 284.3,479.5 279.8,484.3 275.3,479.5" fill="#ff0000"/>
<polygon points="292.5,474.7 297.0,479.5 292.5,484.3 288.0,479.5" fill="#ff0000"/>
<polygon points="299.8,474.7 304.3,479.5 299.8,484.3 295.3,479.5" fill="#ff0000"/>
<polygon points="329.2,474.7 333.7,479.5 329.2,484.3 324.7,479.5" fill="#ff0000"/>
<polygon points="360.6,474.7 365.1,479.5 360.6,484.3 356.1,479.5" fill="#ff0000"/>
<polyline points="56.4,442.5 81.3,458.3 90.2,458.5 105.5,457.0 131.0,460.0 157.7,463.3 180.5,466.3 202.0,472.5 224.8,471.8 230.0,474.5 246.3,476.0 279.8,473.5 292.5,475.0 299.8,475.5 329.2,478.0 360.6,478.0" fill="none" stroke="#ff0000" stroke-width="0.8" stroke-opacity="1.0" clip-path="url(#cb)"/>
<circle cx="56.4" cy="442.5" r="3.3" fill="#ff0000"/>
<circle cx="81.3" cy="458.3" r="3.3" fill="#ff0000"/>
<circle cx="90.2" cy="458.5" r="3.3" fill="#ff0000"/>
<circle cx="105.5" cy="457.0" r="3.3" fill="#ff0000"/>
<circle cx="131.0" cy="460.0" r="3.3" fill="#ff0000"/>
<circle cx="157.7" cy="463.3" r="3.3" fill="#ff0000"/>
<circle cx="180.5" cy="466.3" r="3.3" fill="#ff0000"/>
<circle cx="202.0" cy="472.5" r="3.3" fill="#ff0000"/>
<circle cx="224.8" cy="471.8" r="3.3" fill="#ff0000"/>
<circle cx="230.0" cy="474.5" r="3.3" fill="#ff0000"/>
<circle cx="246.3" cy="476.0" r="3.3" fill="#ff0000"/>
<circle cx="279.8" cy="473.5" r="3.3" fill="#ff0000"/>
<circle cx="292.5" cy="475.0" r="3.3" fill="#ff0000"/>
<circle cx="299.8" cy="475.5" r="3.3" fill="#ff0000"/>
<circle cx="329.2" cy="478.0" r="3.3" fill="#ff0000"/>
<circle cx="360.6" cy="478.0" r="3.3" fill="#ff0000"/>
<polyline points="56.4,262.0 75.2,367.8 81.3,374.7 90.2,384.5 105.5,399.8 131.0,417.0 157.7,429.7 180.5,440.8 202.0,446.3 224.8,454.7 230.0,455.7 246.3,460.5 279.8,467.5 292.5,470.0 299.8,471.0 329.2,475.5 360.6,476.0" fill="none" stroke="#ff0000" stroke-width="0.9" stroke-opacity="1.0" clip-path="url(#cb)"/>
<polygon points="75.2,363.6 79.4,370.9 71.0,370.9" fill="#ff0000"/>
<polygon points="81.3,370.5 85.5,377.8 77.1,377.8" fill="#ff0000"/>
<polygon points="90.2,380.3 94.4,387.6 86.0,387.6" fill="#ff0000"/>
<polygon points="105.5,395.6 109.7,402.9 101.3,402.9" fill="#ff0000"/>
<polygon points="131.0,412.8 135.2,420.1 126.8,420.1" fill="#ff0000"/>
<polygon points="157.7,425.5 161.8,432.8 153.5,432.8" fill="#ff0000"/>
<polygon points="180.5,436.6 184.7,443.9 176.3,443.9" fill="#ff0000"/>
<polygon points="202.0,442.1 206.2,449.4 197.8,449.4" fill="#ff0000"/>
<polygon points="224.8,450.5 229.0,457.8 220.7,457.8" fill="#ff0000"/>
<polygon points="230.0,451.5 234.2,458.8 225.8,458.8" fill="#ff0000"/>
<polygon points="246.3,456.3 250.5,463.6 242.2,463.6" fill="#ff0000"/>
<polygon points="279.8,463.3 283.9,470.6 275.7,470.6" fill="#ff0000"/>
<polygon points="292.5,465.8 296.6,473.1 288.4,473.1" fill="#ff0000"/>
<polygon points="299.8,466.8 303.9,474.1 295.7,474.1" fill="#ff0000"/>
<polygon points="329.2,471.3 333.3,478.6 325.1,478.6" fill="#ff0000"/>
<polygon points="360.6,471.8 364.8,479.1 356.5,479.1" fill="#ff0000"/>
<polyline points="56.4,268.0 75.2,319.0 81.3,331.8 90.2,349.2 105.5,372.6 131.0,391.9 157.7,412.0 180.5,424.0 202.0,434.8 224.8,443.0 230.0,445.9 246.3,450.0 279.8,461.0 292.5,464.0 299.8,465.5 329.2,473.0 360.6,474.0" fill="none" stroke="#ff0000" stroke-width="0.9" stroke-opacity="1.0" clip-path="url(#cb)"/>
<polygon points="71.9,315.6 78.5,315.6 78.5,322.4 71.9,322.4" fill="#ff0000"/>
<polygon points="78.0,328.4 84.6,328.4 84.6,335.2 78.0,335.2" fill="#ff0000"/>
<polygon points="86.9,345.8 93.5,345.8 93.5,352.6 86.9,352.6" fill="#ff0000"/>
<polygon points="102.2,369.2 108.8,369.2 108.8,376.0 102.2,376.0" fill="#ff0000"/>
<polygon points="127.7,388.5 134.3,388.5 134.3,395.2 127.7,395.2" fill="#ff0000"/>
<polygon points="154.3,408.6 161.0,408.6 161.0,415.4 154.3,415.4" fill="#ff0000"/>
<polygon points="177.2,420.6 183.8,420.6 183.8,427.4 177.2,427.4" fill="#ff0000"/>
<polygon points="198.7,431.4 205.3,431.4 205.3,438.2 198.7,438.2" fill="#ff0000"/>
<polygon points="221.5,439.6 228.2,439.6 228.2,446.4 221.5,446.4" fill="#ff0000"/>
<polygon points="226.7,442.5 233.3,442.5 233.3,449.2 226.7,449.2" fill="#ff0000"/>
<polygon points="243.0,446.6 249.7,446.6 249.7,453.4 243.0,453.4" fill="#ff0000"/>
<polygon points="276.4,457.6 283.2,457.6 283.2,464.4 276.4,464.4" fill="#ff0000"/>
<polygon points="289.1,460.6 295.9,460.6 295.9,467.4 289.1,467.4" fill="#ff0000"/>
<polygon points="296.4,462.1 303.2,462.1 303.2,468.9 296.4,468.9" fill="#ff0000"/>
<polygon points="325.8,469.6 332.6,469.6 332.6,476.4 325.8,476.4" fill="#ff0000"/>
<polygon points="357.2,470.6 364.0,470.6 364.0,477.4 357.2,477.4" fill="#ff0000"/>
<polyline points="56.4,277.0 75.2,299.6 81.3,314.7 90.2,336.6 105.5,357.3 131.0,381.4 157.7,402.0 180.5,414.2 202.0,428.5 224.8,436.0 230.0,438.0 246.3,444.2 279.8,456.5 292.5,460.0 299.8,461.5 329.2,471.0 360.6,472.0" fill="none" stroke="#ff0000" stroke-width="0.9" stroke-opacity="1.0" clip-path="url(#cb)"/>
<polygon points="75.2,294.7 76.4,298.0 79.9,298.1 77.1,300.2 78.1,303.6 75.2,301.6 72.3,303.6 73.3,300.2 70.5,298.1 74.0,298.0" fill="#ff0000"/>
<polygon points="81.3,309.8 82.5,313.1 86.0,313.2 83.2,315.3 84.2,318.7 81.3,316.7 78.4,318.7 79.4,315.3 76.6,313.2 80.1,313.1" fill="#ff0000"/>
<polygon points="90.2,331.7 91.4,335.0 94.9,335.1 92.1,337.2 93.1,340.6 90.2,338.6 87.3,340.6 88.3,337.2 85.5,335.1 89.0,335.0" fill="#ff0000"/>
<polygon points="105.5,352.4 106.7,355.7 110.2,355.8 107.4,357.9 108.4,361.3 105.5,359.3 102.6,361.3 103.6,357.9 100.8,355.8 104.3,355.7" fill="#ff0000"/>
<polygon points="131.0,376.5 132.2,379.8 135.7,379.9 132.9,382.0 133.9,385.4 131.0,383.4 128.1,385.4 129.1,382.0 126.3,379.9 129.8,379.8" fill="#ff0000"/>
<polygon points="157.7,397.1 158.9,400.4 162.4,400.5 159.6,402.6 160.6,406.0 157.7,404.0 154.8,406.0 155.8,402.6 153.0,400.5 156.5,400.4" fill="#ff0000"/>
<polygon points="180.5,409.3 181.7,412.6 185.2,412.7 182.4,414.8 183.4,418.2 180.5,416.2 177.6,418.2 178.6,414.8 175.8,412.7 179.3,412.6" fill="#ff0000"/>
<polygon points="202.0,423.6 203.2,426.9 206.7,427.0 203.9,429.1 204.9,432.5 202.0,430.5 199.1,432.5 200.1,429.1 197.3,427.0 200.8,426.9" fill="#ff0000"/>
<polygon points="224.8,431.1 226.0,434.4 229.5,434.5 226.7,436.6 227.7,440.0 224.8,438.0 221.9,440.0 222.9,436.6 220.1,434.5 223.6,434.4" fill="#ff0000"/>
<polygon points="230.0,433.1 231.2,436.4 234.7,436.5 231.9,438.6 232.9,442.0 230.0,440.0 227.1,442.0 228.1,438.6 225.3,436.5 228.8,436.4" fill="#ff0000"/>
<polygon points="246.3,439.3 247.5,442.6 251.0,442.7 248.2,444.8 249.2,448.2 246.3,446.2 243.4,448.2 244.4,444.8 241.6,442.7 245.1,442.6" fill="#ff0000"/>
<polygon points="279.8,451.6 281.0,454.9 284.5,455.0 281.7,457.1 282.7,460.5 279.8,458.5 276.9,460.5 277.9,457.1 275.1,455.0 278.6,454.9" fill="#ff0000"/>
<polygon points="292.5,455.1 293.7,458.4 297.2,458.5 294.4,460.6 295.4,464.0 292.5,462.0 289.6,464.0 290.6,460.6 287.8,458.5 291.3,458.4" fill="#ff0000"/>
<polygon points="299.8,456.6 301.0,459.9 304.5,460.0 301.7,462.1 302.7,465.5 299.8,463.5 296.9,465.5 297.9,462.1 295.1,460.0 298.6,459.9" fill="#ff0000"/>
<polygon points="329.2,466.1 330.4,469.4 333.9,469.5 331.1,471.6 332.1,475.0 329.2,473.0 326.3,475.0 327.3,471.6 324.5,469.5 328.0,469.4" fill="#ff0000"/>
<polygon points="360.6,467.1 361.8,470.4 365.3,470.5 362.5,472.6 363.5,476.0 360.6,474.0 357.7,476.0 358.7,472.6 355.9,470.5 359.4,470.4" fill="#ff0000"/>
<polygon points="52.8,253.6 59.2,253.6 59.2,260.1 52.8,260.1" fill="#ff0000"/>
<polygon points="52.8,256.8 59.2,256.8 59.2,263.2 52.8,263.2" fill="#ff0000"/>
<polygon points="52.8,259.8 59.2,259.8 59.2,266.2 52.8,266.2" fill="#ff0000"/>
<polygon points="52.8,262.9 59.2,262.9 59.2,269.4 52.8,269.4" fill="#ff0000"/>
<polygon points="55.9,269.1 57.1,272.4 60.6,272.5 57.8,274.6 58.8,278.0 55.9,276.0 53.0,278.0 54.0,274.6 51.2,272.5 54.7,272.4" fill="#ff0000"/>
<polygon points="55.9,271.4 57.1,274.7 60.6,274.8 57.8,276.9 58.8,280.3 55.9,278.3 53.0,280.3 54.0,276.9 51.2,274.8 54.7,274.7" fill="#ff0000"/>
<polygon points="55.9,273.6 57.1,276.9 60.6,277.0 57.8,279.1 58.8,282.5 55.9,280.5 53.0,282.5 54.0,279.1 51.2,277.0 54.7,276.9" fill="#ff0000"/>
<polygon points="55.9,267.8 60.0,275.1 51.8,275.1" fill="#ff0000"/>
<polygon points="55.9,274.3 60.0,281.6 51.8,281.6" fill="#ff0000"/>
<circle cx="56.4" cy="438.5" r="3.1" fill="#ff0000"/>
<circle cx="56.4" cy="446.0" r="3.1" fill="#ff0000"/>
<polygon points="56.4,467.7 60.9,472.5 56.4,477.3 51.9,472.5" fill="#ff0000"/>
<polygon points="284.3,463.8 288.4,471.1 280.2,471.1" fill="#ff0000"/>
<circle cx="284.3" cy="474.0" r="3.3" fill="#ff0000"/>
<polygon points="284.3,474.7 288.8,479.5 284.3,484.3 279.8,479.5" fill="#ff0000"/>
<text transform="translate(53.8,312.2) scale(1.0,1.06)" font-size="15.4" fill="#000" text-anchor="end">1</text>
<text transform="translate(53.8,398.3) scale(1.0,1.06)" font-size="15.4" fill="#000" text-anchor="end">0.5</text>
<text transform="translate(52.5,496.8) scale(1.0,1.06)" font-size="15.4" fill="#000" text-anchor="middle">0</text>
<text transform="translate(117.2,496.8) scale(1.0,1.06)" font-size="15.4" fill="#000" text-anchor="middle">0.05</text>
<text transform="translate(178.0,496.8) scale(1.0,1.06)" font-size="15.4" fill="#000" text-anchor="middle">0.1</text>
<text transform="translate(238.8,496.8) scale(1.0,1.06)" font-size="15.4" fill="#000" text-anchor="middle">0.15</text>
<text transform="translate(299.6,496.8) scale(1.0,1.06)" font-size="15.4" fill="#000" text-anchor="middle">0.2</text>
<text transform="translate(360.4,496.8) scale(1.0,1.06)" font-size="15.4" fill="#000" text-anchor="middle">0.25</text>
<text transform="translate(209.0,512.0) scale(1.0,1.06)" font-size="16" fill="#000" text-anchor="middle" font-style="italic">δ</text>
<text transform="translate(325.8,281.6) scale(1.0,1.06)" font-size="18.8" fill="#000" text-anchor="start">(b)</text>
<text transform="translate(203.5,287.5) scale(1.0,1.06)" font-size="15" fill="#000" text-anchor="middle" font-style="italic">U / t</text>
<text transform="translate(139.0,302.5) scale(1.0,1.06)" font-size="15.4" fill="#000" text-anchor="middle">4</text>
<text transform="translate(173.5,302.5) scale(1.0,1.06)" font-size="15.4" fill="#000" text-anchor="middle">6</text>
<text transform="translate(207.8,302.5) scale(1.0,1.06)" font-size="15.4" fill="#000" text-anchor="middle">8</text>
<text transform="translate(243.3,302.5) scale(1.0,1.06)" font-size="15.4" fill="#000" text-anchor="middle">10</text>
<text transform="translate(277.0,302.5) scale(1.0,1.06)" font-size="15.4" fill="#000" text-anchor="middle">16</text>
<path d="M123.00000000000001 313.5H154.60000000000002" stroke="#ff0000" stroke-width="0.9" fill="none"/>
<polygon points="138.8,308.7 143.3,313.5 138.8,318.3 134.3,313.5" fill="#ff0000"/>
<path d="M157.7 313.5H189.3" stroke="#ff0000" stroke-width="0.9" fill="none"/>
<circle cx="173.5" cy="313.5" r="3.3" fill="#ff0000"/>
<path d="M192.39999999999998 313.5H224.0" stroke="#ff0000" stroke-width="0.9" fill="none"/>
<polygon points="208.2,309.3 212.3,316.6 204.0,316.6" fill="#ff0000"/>
<path d="M227.1 313.5H258.7" stroke="#ff0000" stroke-width="0.9" fill="none"/>
<polygon points="239.6,310.1 246.2,310.1 246.2,316.9 239.6,316.9" fill="#ff0000"/>
<path d="M261.8 313.5H293.40000000000003" stroke="#ff0000" stroke-width="0.9" fill="none"/>
<polygon points="277.6,308.6 278.8,311.9 282.3,312.0 279.5,314.1 280.5,317.5 277.6,315.5 274.7,317.5 275.7,314.1 272.9,312.0 276.4,311.9" fill="#ff0000"/>
<path d="M157.7 329H189.3" stroke="#0000ff" stroke-width="0.95" stroke-dasharray="2.9 2.1" fill="none"/>
<circle cx="173.5" cy="329.0" r="2.8" fill="none" stroke="#0000ff" stroke-width="1"/>
<path d="M192.39999999999998 329H224.0" stroke="#0000ff" stroke-width="0.95" stroke-dasharray="2.9 2.1" fill="none"/>
<polygon points="208.2,325.5 211.4,331.5 205.0,331.5" fill="none" stroke="#0000ff" stroke-width="1" stroke-linejoin="miter"/>
<path d="M227.1 329H258.7" stroke="#0000ff" stroke-width="0.95" stroke-dasharray="2.9 2.1" fill="none"/>
<polygon points="239.9,326.0 245.9,326.0 245.9,332.0 239.9,332.0" fill="none" stroke="#0000ff" stroke-width="1" stroke-linejoin="miter"/>
<path d="M261.8 329H293.40000000000003" stroke="#0000ff" stroke-width="0.95" stroke-dasharray="2.9 2.1" fill="none"/>
<polygon points="277.6,324.7 278.7,327.5 281.7,327.7 279.3,329.6 280.1,332.5 277.6,330.8 275.1,332.5 275.9,329.6 273.5,327.7 276.5,327.5" fill="none" stroke="#0000ff" stroke-width="1" stroke-linejoin="miter"/>
<text transform="translate(296.0,318.8) scale(1.0,1.06)" font-size="15.4" fill="#000"><tspan font-style="italic">d</tspan>-wave</text>
<text transform="translate(296.5,335.0) scale(1.0,1.06)" font-size="15.4" fill="#000" text-anchor="start">AF</text>
<text transform="translate(269.5,372.5) scale(1.0,1.06)" font-size="15.4" fill="#000"><tspan font-style="italic">L</tspan> = 10 - 16</text>
<text transform="translate(185.6,399.3) scale(1,1.06) skewX(-9)" font-size="17.5" fill="#0000ff" font-style="italic">Δ</text>
<text transform="translate(195.9,399.3) scale(1,1.06)" font-size="17.5" fill="#0000ff" font-style="italic"><tspan font-size="11.5" font-style="normal" dy="4">AF</tspan></text>
<text transform="translate(185.6,462.0) scale(1,1.06) skewX(-9)" font-size="17.5" fill="#ff0000" font-style="italic">Δ</text>
<text transform="translate(195.9,462.0) scale(1,1.06)" font-size="17.5" fill="#ff0000" font-style="italic"><tspan font-size="11.5" dy="3.8">d</tspan></text>
<g transform="translate(23.5,367.5) rotate(-90)" font-size="16" font-style="italic"><text transform="translate(-13.4,0) skewX(-9)">Δ</text><text x="0.2" y="0">/ t</text></g>
</svg>
</body></html>
